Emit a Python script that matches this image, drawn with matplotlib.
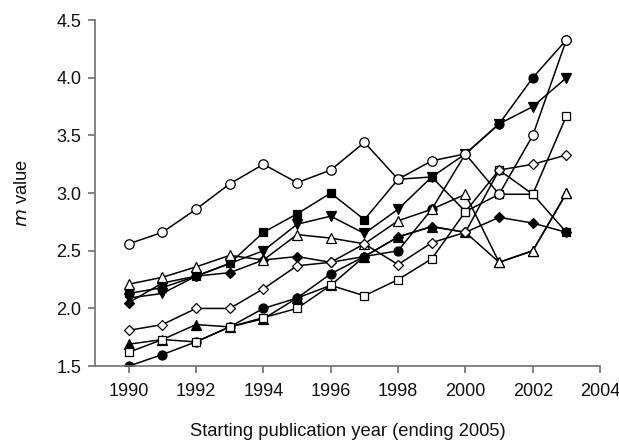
import matplotlib
matplotlib.use("Agg")
import matplotlib.pyplot as plt

plt.rcParams['font.family'] = ['Liberation Sans', 'DejaVu Sans']

years = list(range(1990, 2004))

open_circle   = [2.56, 2.66, 2.86, 3.08, 3.25, 3.09, 3.20, 3.44, 3.12, 3.28, 3.34, 2.99, 3.50, 4.33]
filled_circle = [1.50, 1.60, 1.71, 1.84, 2.00, 2.09, 2.30, 2.45, 2.50, 2.86, 3.34, 3.60, 4.00, 4.33]
filled_square = [2.13, 2.18, 2.28, 2.39, 2.66, 2.82, 3.00, 2.77, 3.12, 3.14, 2.84, 2.99, 2.99, 2.66]
open_square   = [1.62, 1.73, 1.71, 1.84, 1.92, 2.00, 2.20, 2.11, 2.25, 2.43, 2.84, 3.20, 2.99, 3.67]
filled_tri_dn = [2.09, 2.13, 2.28, 2.39, 2.50, 2.73, 2.80, 2.65, 2.86, 3.14, 3.34, 3.60, 3.75, 4.00]
open_tri_up   = [2.21, 2.27, 2.36, 2.46, 2.42, 2.64, 2.61, 2.56, 2.76, 2.86, 2.99, 2.40, 2.50, 3.00]
filled_diam   = [2.05, 2.22, 2.28, 2.31, 2.42, 2.45, 2.40, 2.45, 2.62, 2.71, 2.66, 2.79, 2.74, 2.66]
open_diam     = [1.81, 1.86, 2.00, 2.00, 2.17, 2.37, 2.40, 2.56, 2.38, 2.57, 2.66, 3.20, 3.25, 3.33]
filled_tri_up = [1.69, 1.73, 1.86, 1.84, 1.91, 2.09, 2.20, 2.45, 2.62, 2.71, 2.66, 2.40, 2.50, 3.00]

series = [
    (filled_square, 's', 'black', 5.5),
    (filled_circle, 'o', 'black', 6.5),
    (filled_tri_dn, 'v', 'black', 6.5),
    (filled_tri_up, '^', 'black', 6.5),
    (filled_diam, 'D', 'black', 5.5),
    (open_square, 's', 'white', 5.5),
    (open_tri_up, '^', 'white', 6.5),
    (open_diam, 'D', 'white', 5.5),
    (open_circle, 'o', 'white', 6.8),
]

xticks = list(range(1990, 2005, 2))
yticks = [1.5, 2.0, 2.5, 3.0, 3.5, 4.0, 4.5]

fig = plt.figure(figsize=(6.19, 4.47), dpi=100)
ax = fig.add_axes([0.1535, 0.181, 0.816, 0.774])

for vals, mk, fc, ms in series:
    ax.plot(years, vals, color='black', lw=1.1, marker=mk, markersize=ms,
            markerfacecolor=fc, markeredgecolor='black', markeredgewidth=0.9)

ax.set_xlim(1989, 2004)
ax.set_ylim(1.5, 4.5)
ax.set_xticks(xticks)
ax.set_yticks(yticks)
ax.set_yticklabels([f"{v:.1f}" for v in yticks])
for s in ['top', 'right']:
    ax.spines[s].set_visible(False)
for s in ['left', 'bottom']:
    ax.spines[s].set_color('#707070')
    ax.spines[s].set_linewidth(1.2)
ax.tick_params(axis='both', direction='out', length=5, width=1.2, color='#707070',
               labelsize=13, labelcolor='#111111')
ax.tick_params(axis='x', pad=7)
ax.tick_params(axis='y', pad=5)
ax.set_xlabel('Starting publication year (ending 2005)', fontsize=13.2, color='#111111', labelpad=17)
ax.set_ylabel('$\\it{m}$ value', fontsize=13.2, color='#111111', labelpad=18)

fig.savefig('out.png', dpi=100)
